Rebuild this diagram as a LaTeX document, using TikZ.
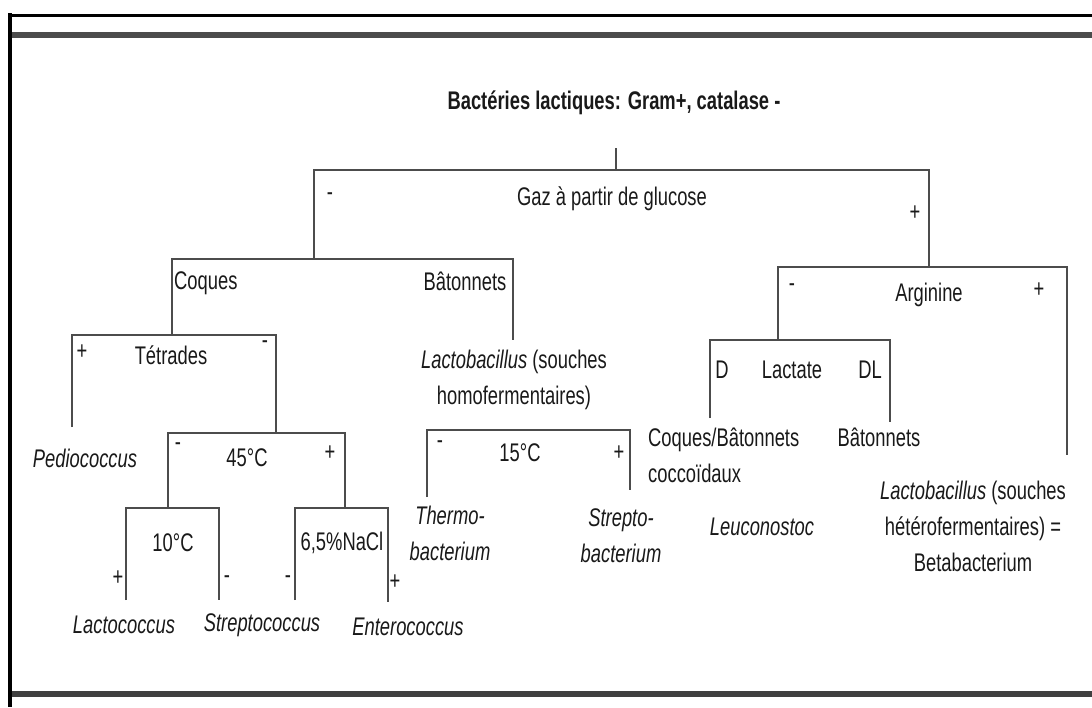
\documentclass[tikz,border=0pt]{standalone}
\usepackage{fontspec}
\setmainfont{Liberation Sans}[FakeStretch=0.72]
\usepackage{tikz}
\usetikzlibrary{positioning}

\begin{document}
\begin{tikzpicture}[
  x=1pt, y=-1pt,
  txt/.style={inner sep=0pt, text=black!90, font=\fontsize{25.5}{36}\selectfont},
  gen/.style={txt, font=\fontsize{25.5}{36}\selectfont\itshape},
  ttl/.style={txt, font=\fontsize{25.5}{36}\selectfont\bfseries},
  sgn/.style={txt},
  brk/.style={draw=black!70, line width=1.6pt},
]
  \useasboundingbox (0,0) rectangle (1092,707);

  % frame of the scanned page
  \draw[line width=4pt, black] (10,13) -- (10,707);
  \draw[line width=3pt, black] (8,15) -- (1092,15);
  \draw[line width=6pt, black!70] (12,35) -- (1092,35);
  \draw[line width=6pt, black!75] (12,694) -- (1092,694);

  % bracket corners
  \coordinate (tick) at (616,148);
  \coordinate (gazL) at (314,170);
  \coordinate (gazR) at (929,170);
  \coordinate (coqL) at (172,259);
  \coordinate (coqR) at (513,259);
  \coordinate (coqRb) at (513,340);
  \coordinate (argL) at (778,267);
  \coordinate (argR) at (1067,267);
  \coordinate (argRb) at (1067,455);
  \coordinate (tetL) at (72,335);
  \coordinate (tetR) at (276,335);
  \coordinate (tetLb) at (72,427);
  \coordinate (lacL) at (710,340);
  \coordinate (lacR) at (890,340);
  \coordinate (lacLb) at (710,418);
  \coordinate (lacRb) at (890,422);
  \coordinate (t45L) at (168,433);
  \coordinate (t45R) at (345,433);
  \coordinate (t15L) at (427,430);
  \coordinate (t15R) at (630,430);
  \coordinate (t15Lb) at (427,497);
  \coordinate (t15Rb) at (630,490);
  \coordinate (t10L) at (126,508);
  \coordinate (t10R) at (219,508);
  \coordinate (t10Lb) at (126,600);
  \coordinate (t10Rb) at (219,600);
  \coordinate (naclL) at (295,508);
  \coordinate (naclR) at (388,508);
  \coordinate (naclLb) at (295,600);
  \coordinate (naclRb) at (388,602);

  % texts
  \node[ttl] (titre) at (614,103) {Bactéries lactiques: Gram+, catalase -};
  \node[txt] (gaz) at (612,199) {Gaz à partir de glucose};
  \node[sgn] (gazM) at (330,197) {-};
  \node[sgn] (gazP) at (915,213) {+};

  \node[txt, anchor=west] (coq) at (174,283) {Coques};
  \node[txt] (bat) at (465,281) {Bâtonnets};
  \node[txt, align=center] (homo) at (514,380) {\textit{Lactobacillus} (souches\\homofermentaires)};

  \node[sgn] (tetP) at (82,352) {+};
  \node[txt] (tet) at (171,355) {Tétrades};
  \node[sgn] (tetM) at (265,345) {-};
  \node[gen] (pedio) at (85,458) {Pediococcus};

  \node[sgn] (t45M) at (178,447) {-};
  \node[txt] (t45) at (247,458) {45°C};
  \node[sgn] (t45P) at (330,453) {+};

  \node[txt] (t10) at (173,543) {10°C};
  \node[sgn] (t10P) at (118,578) {+};
  \node[sgn] (t10M) at (227,580) {-};
  \node[txt] (nacl) at (342,543) {6,5\%NaCl};
  \node[sgn] (naclM) at (288,580) {-};
  \node[sgn] (naclP) at (395,582) {+};

  \node[gen] (lacto) at (124,625) {Lactococcus};
  \node[gen] (strepto) at (262,625) {Streptococcus};
  \node[gen] (entero) at (408,627) {Enterococcus};

  \node[sgn] (t15M) at (440,445) {-};
  \node[txt] (t15) at (520,453) {15°C};
  \node[sgn] (t15P) at (619,453) {+};
  \node[gen, align=center] (thermo) at (450,533) {Thermo-\\bacterium};
  \node[gen, align=center] (streptob) at (621,536) {Strepto-\\bacterium};

  \node[sgn] (argM) at (792,288) {-};
  \node[txt] (arg) at (929,295) {Arginine};
  \node[sgn] (argP) at (1039,290) {+};

  \node[txt] (lacD) at (722,370) {D};
  \node[txt] (lac) at (792,370) {Lactate};
  \node[txt] (lacDL) at (870,370) {DL};
  \node[txt, anchor=west, align=left] (cocco) at (648,455) {Coques/Bâtonnets\\coccoïdaux};
  \node[txt] (batDL) at (879,437) {Bâtonnets};
  \node[gen] (leuco) at (762,527) {Leuconostoc};
  \node[txt, align=center] (hetero) at (973,526) {\textit{Lactobacillus} (souches\\hétérofermentaires) =\\Betabacterium};

  % brackets
  \draw[brk] (tick) -- (tick |- gazL);
  \draw[brk] (gazL |- coqL) -- (gazL) -- (gazR) -- (gazR |- argL);
  \draw[brk] (coqL |- tetL) -- (coqL) -- (coqR) -- (coqRb);
  \draw[brk] (argL |- lacL) -- (argL) -- (argR) -- (argRb);
  \draw[brk] (tetLb) -- (tetL) -- (tetR) -- (tetR |- t45L);
  \draw[brk] (lacLb) -- (lacL) -- (lacR) -- (lacRb);
  \draw[brk] (t45L |- t10L) -- (t45L) -- (t45R) -- (t45R |- naclL);
  \draw[brk] (t15Lb) -- (t15L) -- (t15R) -- (t15Rb);
  \draw[brk] (t10Lb) -- (t10L) -- (t10R) -- (t10Rb);
  \draw[brk] (naclLb) -- (naclL) -- (naclR) -- (naclRb);
\end{tikzpicture}
\end{document}
